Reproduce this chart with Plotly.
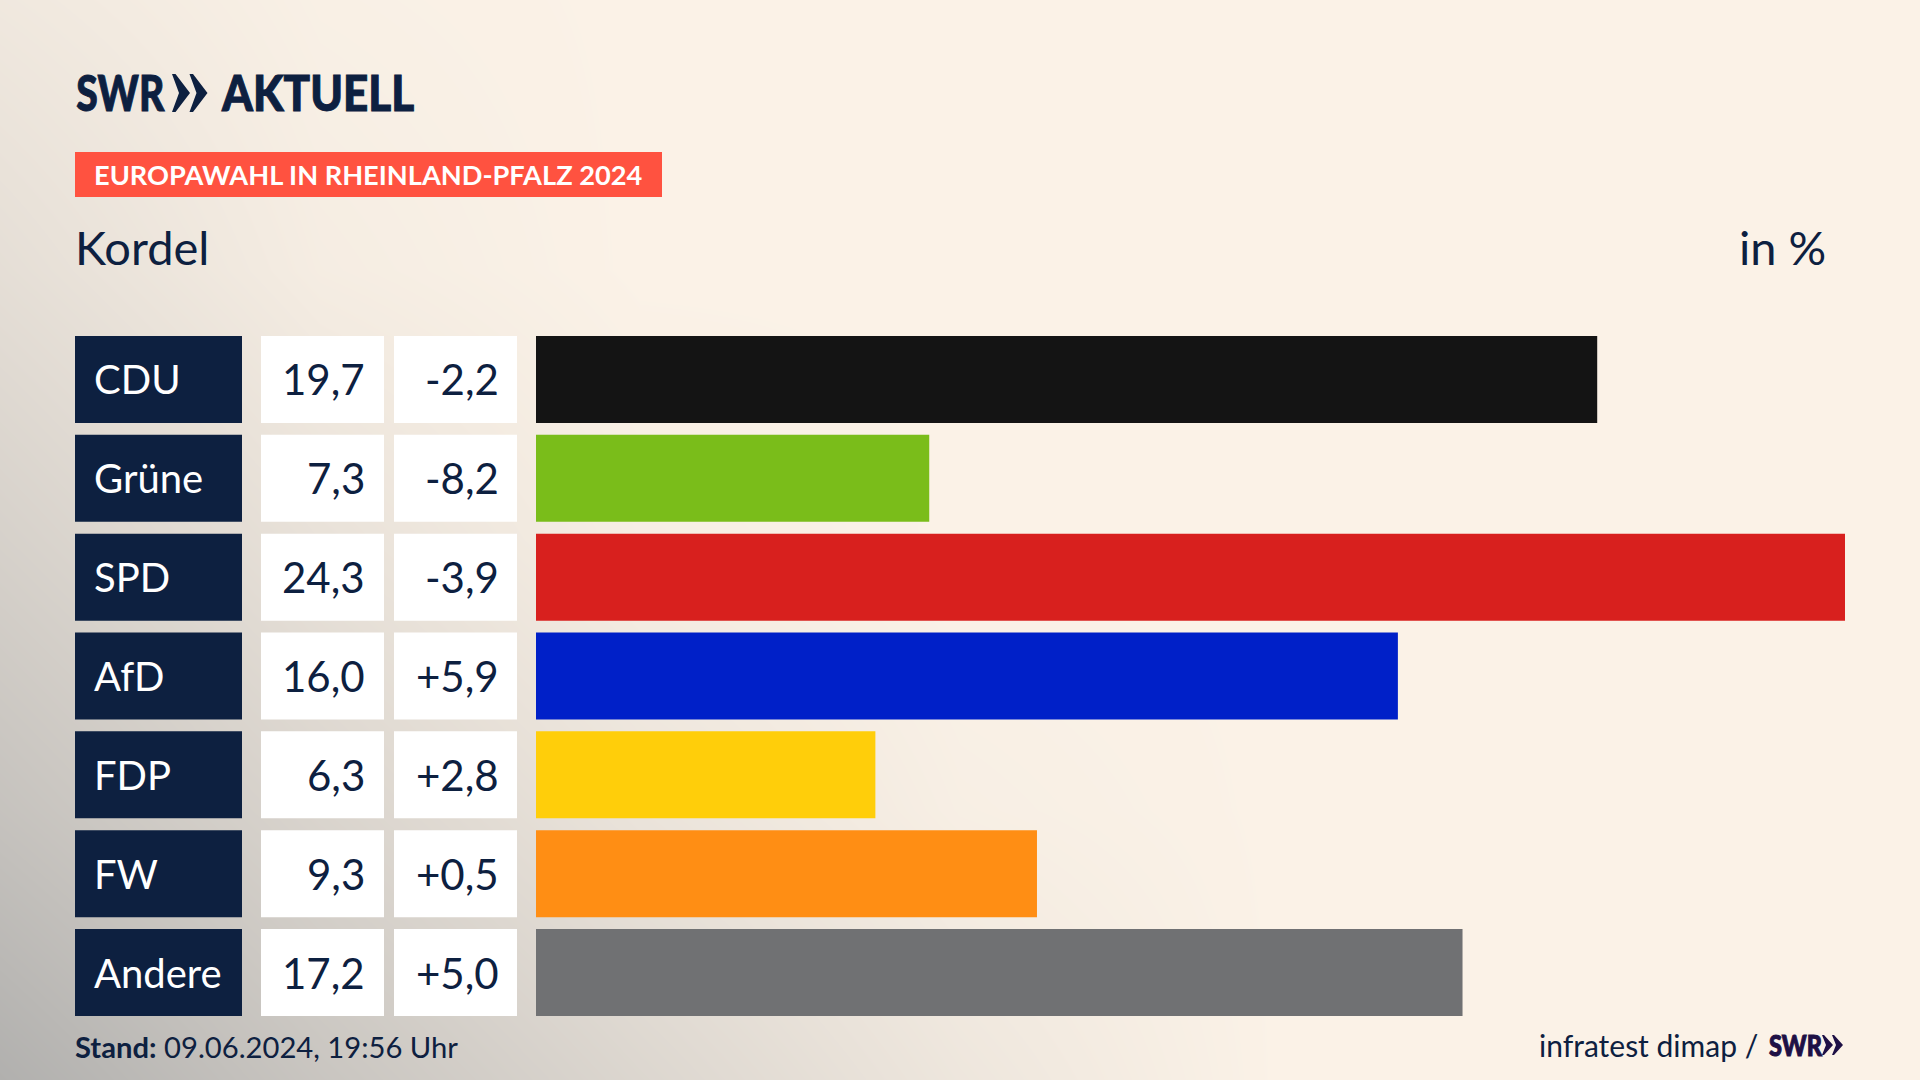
import plotly.graph_objects as go

parties = ["CDU", "Grüne", "SPD", "AfD", "FDP", "FW", "Andere"]
shares = [19.7, 7.3, 24.3, 16.0, 6.3, 9.3, 17.2]
changes = ["-2,2", "-8,2", "-3,9", "+5,9", "+2,8", "+0,5", "+5,0"]
share_labels = ["19,7", "7,3", "24,3", "16,0", "6,3", "9,3", "17,2"]
colors = ["#141414", "#7ABD1A", "#D8201E", "#0020C8", "#FFCE0A", "#FF8E14", "#707173"]

# background tint, 0 = cream, 1 = darkest grey
bg_x = [0, 320, 640, 960, 1280, 1600, 1920]
bg_y = [0, 270, 540, 810, 1080]
bg_z = [
    [0.15, 0.03, 0, 0, 0, 0, 0],
    [0.30, 0.08, 0, 0, 0, 0, 0],
    [0.50, 0.25, 0.06, 0, 0, 0, 0],
    [0.72, 0.45, 0.22, 0.05, 0, 0, 0],
    [1.00, 0.68, 0.42, 0.18, 0, 0, 0],
]

NAVY = "#0D2040"
FONT = "Lato"

fig = go.Figure()

fig.add_trace(go.Heatmap(x=bg_x, y=bg_y, z=bg_z, zmin=0, zmax=1, zsmooth="best",
                         colorscale=[[0, "#FBF2E7"], [1, "#B1B0AE"]],
                         showscale=False, hoverinfo="skip"))

fig.add_trace(go.Bar(x=shares, y=list(range(len(parties))), orientation="h",
                     marker=dict(color=colors, line=dict(width=0)),
                     width=0.88, xaxis="x2", yaxis="y2", customdata=parties,
                     hovertemplate="%{customdata}: %{x}<extra></extra>"))

fig.update_layout(
    width=1920, height=1080, margin=dict(l=0, r=0, t=0, b=0),
    paper_bgcolor="#FBF2E7", plot_bgcolor="rgba(0,0,0,0)", showlegend=False,
    font=dict(family=FONT, color=NAVY),
    xaxis=dict(range=[0, 1920], domain=[0, 1], visible=False, fixedrange=True),
    yaxis=dict(range=[1080, 0], domain=[0, 1], visible=False, fixedrange=True),
    xaxis2=dict(range=[0, 24.3], domain=[536 / 1920, 1845 / 1920], visible=False,
                anchor="y2", fixedrange=True),
    yaxis2=dict(range=[6.44, -0.44], domain=[64 / 1080, 744 / 1080], visible=False,
                anchor="x2", fixedrange=True),
)

# table cells next to the bars
for i, party in enumerate(parties):
    for x0, x1, fill in [(75, 242, NAVY), (261, 384, "white"), (394, 517, "white")]:
        fig.add_shape(type="rect", xref="x", yref="y2", x0=x0, x1=x1, y0=i - 0.44, y1=i + 0.44,
                      fillcolor=fill, line_width=0)
    fig.add_annotation(xref="x", yref="y2", x=92, y=i, text=party, showarrow=False,
                       xanchor="left", font=dict(size=40, color="white"))
    fig.add_annotation(xref="x", yref="y2", x=366.5, y=i, text=share_labels[i], showarrow=False,
                       xanchor="right", font=dict(size=42, color=NAVY))
    fig.add_annotation(xref="x", yref="y2", x=500.5, y=i, text=changes[i], showarrow=False,
                       xanchor="right", font=dict(size=42, color=NAVY))


def chevrons(x, top, bottom, w, notch, step, color):
    mid = (top + bottom) / 2
    flat = notch / 2
    for dx in (0, step):
        x0 = x + dx
        fig.add_shape(type="path", xref="x", yref="y", fillcolor=color, line_width=0,
                      path=f"M{x0},{top} L{x0+flat},{top} L{x0+w},{mid} L{x0+flat},{bottom} "
                           f"L{x0},{bottom} L{x0+notch},{mid} Z")


def text(x, y, s, size, anchor="left", color=NAVY, weight=400):
    fig.add_annotation(xref="x", yref="y", x=x, y=y, text=s, showarrow=False, xanchor=anchor,
                       font=dict(size=size, color=color, family=FONT, weight=weight))


# header
text(120, 92, "SWR", 50, anchor="center", weight=900)
chevrons(172, 74, 112, 18, 7, 17.5, NAVY)
text(317, 92, "AKTUELL", 50, anchor="center", weight=900)
fig.add_shape(type="rect", xref="x", yref="y", x0=75, x1=662, y0=152, y1=197,
              fillcolor="#FF5240", line_width=0)
text(92, 174, "<b>EUROPAWAHL IN RHEINLAND-PFALZ 2024</b>", 27.2, color="white")
text(73, 247, "Kordel", 47)
text(1828, 247, "in %", 47, anchor="right")

# footer
text(73, 1046, "<b>Stand:</b> 09.06.2024, 19:56 Uhr", 29.2)
text(1760, 1045, "infratest dimap /", 30, anchor="right")
text(1795.5, 1045, "SWR", 28, anchor="center", color="#1E1045", weight=900)
chevrons(1822, 1035, 1055, 11, 4, 10, "#1E1045")

# no margin around the page, logo lettering is narrower than any installed font
squeeze = """
document.body.style.margin = '0';
document.querySelectorAll('.annotation-text').forEach(function (t) {
  var w = null;
  if (t.textContent === 'AKTUELL') w = 192;
  if (t.textContent === 'SWR') w = t.style.fontSize === '50px' ? 88 : 53;
  if (w) {
    t.setAttribute('textLength', w);
    t.setAttribute('lengthAdjust', 'spacingAndGlyphs');
    t.style.stroke = t.style.fill;
    t.style.strokeWidth = '1px';
  }
});
"""
fig.write_html("out.html", post_script=squeeze, config={"displayModeBar": False})
